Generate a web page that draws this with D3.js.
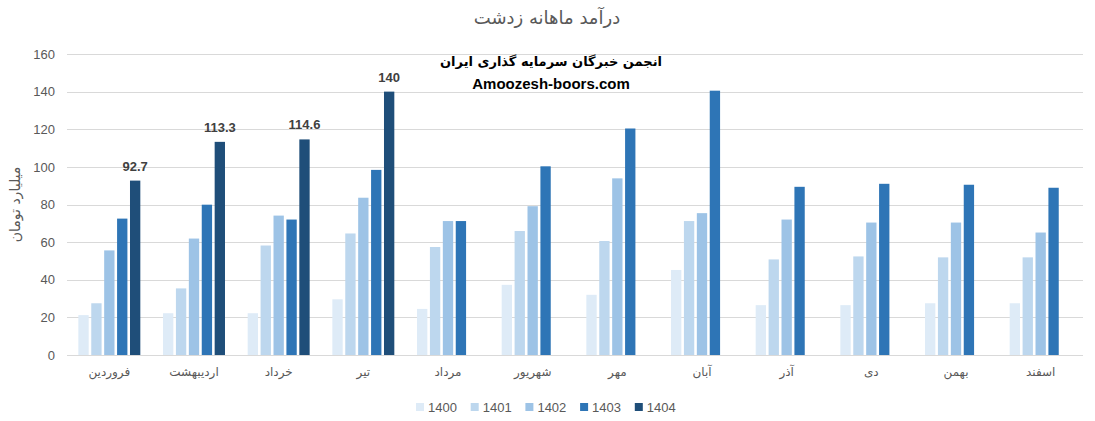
<!DOCTYPE html>
<html><head><meta charset="utf-8">
<script src="https://cdn.jsdelivr.net/npm/d3@7"></script>
<style>
html,body{margin:0;padding:0;background:#fff;}
svg{display:block;font-family:"Liberation Sans","DejaVu Sans",Arial,sans-serif;}
</style></head>
<body>
<svg id="chart" width="1095" height="421"></svg>
<script>
const months = ["فروردین","اردیبهشت","خرداد","تیر","مرداد","شهریور","مهر","آبان","آذر","دی","بهمن","اسفند"];
const years = ["1400","1401","1402","1403","1404"];
const v1400 = [21.2,22.2,22.2,29.6,24.5,37.3,32.0,45.2,26.5,26.5,27.5,27.5];
const v1401 = [27.5,35.4,58.2,64.6,57.4,65.9,60.6,71.2,50.8,52.4,51.9,51.9];
const v1402 = [55.6,61.9,74.1,83.6,71.2,79.1,93.9,75.4,72.0,70.4,70.4,65.1];
const v1403 = [72.5,79.9,72.0,98.4,71.2,100.3,120.4,140.5,89.4,91.0,90.5,88.9];
const v1404 = [92.7,113.3,114.6,140,null,null,null,null,null,null,null,null];
const yTicks = [0,20,40,60,80,100,120,140,160];
const colors = ["#DEEBF7","#BDD7EE","#9DC3E6","#2E75B6","#1F4E79"];
const title = "درآمد ماهانه زدشت";
const yTitle = "میلیارد تومان";
const watermark1 = "انجمن خبرگان سرمایه گذاری ایران";
const watermark2 = "Amoozesh-boors.com";

const seriesVals = [v1400,v1401,v1402,v1403,v1404];
const svg = d3.select("#chart");
const L = 67, R = 1083, T = 54, B = 355;

const x = d3.scaleBand().domain(months).range([L,R]).paddingInner(0.268).paddingOuter(0.134);
const xs = d3.scaleBand().domain(years).range([0,x.bandwidth()]).paddingInner(0.2).paddingOuter(0);
const y = d3.scaleLinear().domain([0,160]).range([B,T]);

// gridlines
svg.append("g").selectAll("line").data(yTicks).join("line")
  .attr("x1",L).attr("x2",R)
  .attr("y1",d=>Math.round(y(d))+0.5).attr("y2",d=>Math.round(y(d))+0.5)
  .attr("stroke","#d9d9d9").attr("stroke-width",1);

// y axis labels
const yAxis = d3.axisLeft(y).tickValues(yTicks).tickSize(0).tickPadding(0);
const gy = svg.append("g").attr("transform",`translate(${L-12},0)`).call(yAxis);
gy.select(".domain").remove();
gy.selectAll("text").attr("fill","#595959").style("font-size","13px")
  .style("font-family","'Liberation Sans',Arial,sans-serif");

// x axis labels
const xAxis = d3.axisBottom(x).tickSize(0).tickPadding(0);
const gx = svg.append("g").attr("transform",`translate(0,${B+12})`).call(xAxis);
gx.select(".domain").remove();
gx.selectAll("text").attr("fill","#595959").style("font-size","12px")
  .style("font-family","'DejaVu Sans',sans-serif");

// bars
const groups = svg.append("g").selectAll("g").data(months).join("g")
  .attr("transform",d=>`translate(${x(d)},0)`);
years.forEach((yr,si)=>{
  groups.filter((d,i)=>seriesVals[si][i]!=null)
    .append("rect")
    .attr("x",xs(yr)).attr("width",xs.bandwidth())
    .attr("y",(d)=>y(seriesVals[si][months.indexOf(d)]))
    .attr("height",(d)=>B-y(seriesVals[si][months.indexOf(d)]))
    .attr("fill",colors[si]);
});

// data labels on 1404
groups.filter((d,i)=>v1404[i]!=null).append("text")
  .attr("x",xs("1404")+xs.bandwidth()/2)
  .attr("y",d=>y(v1404[months.indexOf(d)])-10)
  .attr("text-anchor","middle").attr("fill","#404040")
  .style("font-size","13px").style("font-weight","bold")
  .text(d=>v1404[months.indexOf(d)]);

// title
svg.append("text").attr("x",547).attr("y",24).attr("text-anchor","middle")
  .attr("fill","#595959").style("font-size","18px").style("font-family","'DejaVu Sans',sans-serif")
  .text(title);

// y title
svg.append("text").attr("transform",`translate(20,${(T+B)/2}) rotate(-90)`)
  .attr("text-anchor","middle").attr("fill","#595959").style("font-size","14px")
  .style("font-family","'DejaVu Sans',sans-serif").text(yTitle);

// watermark
svg.append("text").attr("x",551).attr("y",66).attr("text-anchor","middle")
  .attr("fill","#000").style("font-size","13px").style("font-weight","bold")
  .style("font-family","'DejaVu Sans',sans-serif").text(watermark1);
svg.append("text").attr("x",551).attr("y",89).attr("text-anchor","middle")
  .attr("fill","#000").style("font-size","15px").style("font-weight","bold")
  .style("font-family","'Liberation Sans',Arial,sans-serif").text(watermark2);

// legend
const lg = svg.append("g").selectAll("g").data(years).join("g")
  .attr("transform",(d,i)=>`translate(${416+i*54.7},403)`);
lg.append("rect").attr("width",8).attr("height",8).attr("fill",(d,i)=>colors[i]);
lg.append("text").attr("x",12).attr("y",8.5).attr("fill","#595959")
  .style("font-size","13px").style("font-family","'Liberation Sans',Arial,sans-serif").text(d=>d);
</script>
</body></html>
